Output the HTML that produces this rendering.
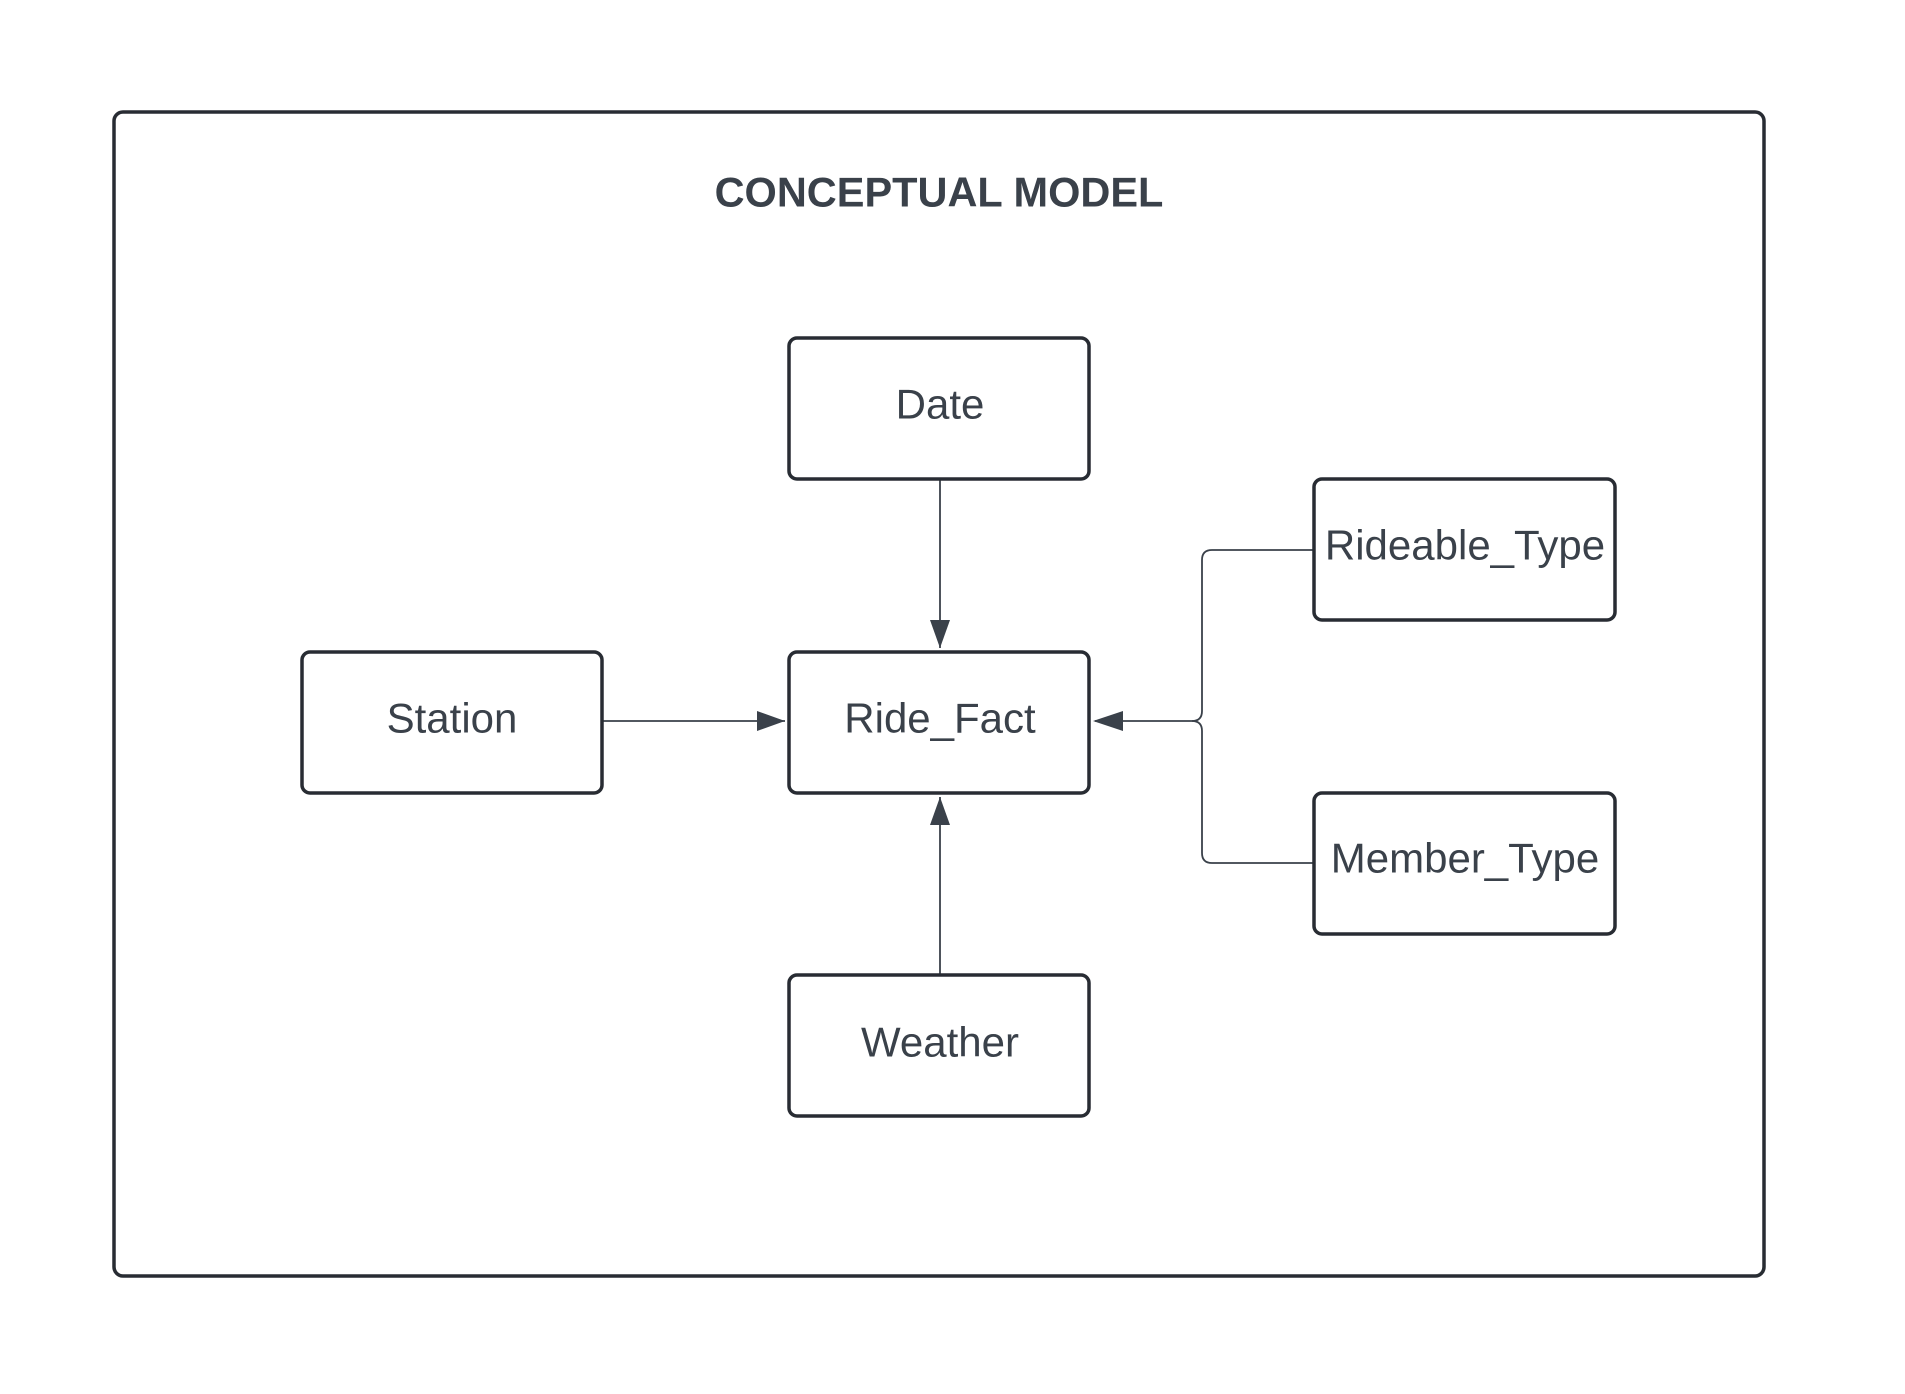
<!DOCTYPE html>
<html><head><meta charset="utf-8"><style>
html,body{margin:0;padding:0;background:#fff;}
</style></head><body>
<svg width="1905" height="1389" viewBox="0 0 1905 1389" xmlns="http://www.w3.org/2000/svg">
<style>
.b{fill:#fff;stroke:#282c33;stroke-width:3.5;}
.t{font-family:"Liberation Sans",sans-serif;font-size:42px;fill:#3a414a;text-anchor:middle;dominant-baseline:central;}
.l{stroke:#3a414a;stroke-width:1.8;fill:none;}
</style>
<rect x="114" y="112" width="1650" height="1164" rx="9" class="b"/>
<text x="939" y="192" class="t" style="font-weight:bold;font-size:41.5px;">CONCEPTUAL MODEL</text>
<!-- connectors -->
<line x1="940" y1="480" x2="940" y2="648" class="l"/>
<path d="M930,620 L940,648 L950,620 z" fill="#3a414a"/>
<line x1="603" y1="721" x2="785" y2="721" class="l"/>
<path d="M757,711 L785,721 L757,731 z" fill="#3a414a"/>
<line x1="940" y1="974" x2="940" y2="797" class="l"/>
<path d="M930,825 L940,797 L950,825 z" fill="#3a414a"/>
<path d="M1314,550 L1212,550 Q1202,550 1202,560 L1202,711 Q1202,721 1192,721 L1095,721" class="l"/>
<path d="M1314,863 L1212,863 Q1202,863 1202,853 L1202,731 Q1202,721 1192,721" class="l"/>
<path d="M1123,711 L1093,721 L1123,731 z" fill="#3a414a"/>
<!-- boxes -->
<rect x="789" y="338" width="300" height="141" rx="8" class="b"/>
<text x="940" y="404" class="t">Date</text>
<rect x="789" y="652" width="300" height="141" rx="8" class="b"/>
<text x="940" y="718" class="t">Ride_Fact</text>
<rect x="789" y="975" width="300" height="141" rx="8" class="b"/>
<text x="940" y="1042" class="t">Weather</text>
<rect x="302" y="652" width="300" height="141" rx="8" class="b"/>
<text x="452" y="718" class="t">Station</text>
<rect x="1314" y="479" width="301" height="141" rx="8" class="b"/>
<text x="1465" y="545" class="t">Rideable_Type</text>
<rect x="1314" y="793" width="301" height="141" rx="8" class="b"/>
<text x="1465" y="858" class="t">Member_Type</text>
</svg>
</body></html>
